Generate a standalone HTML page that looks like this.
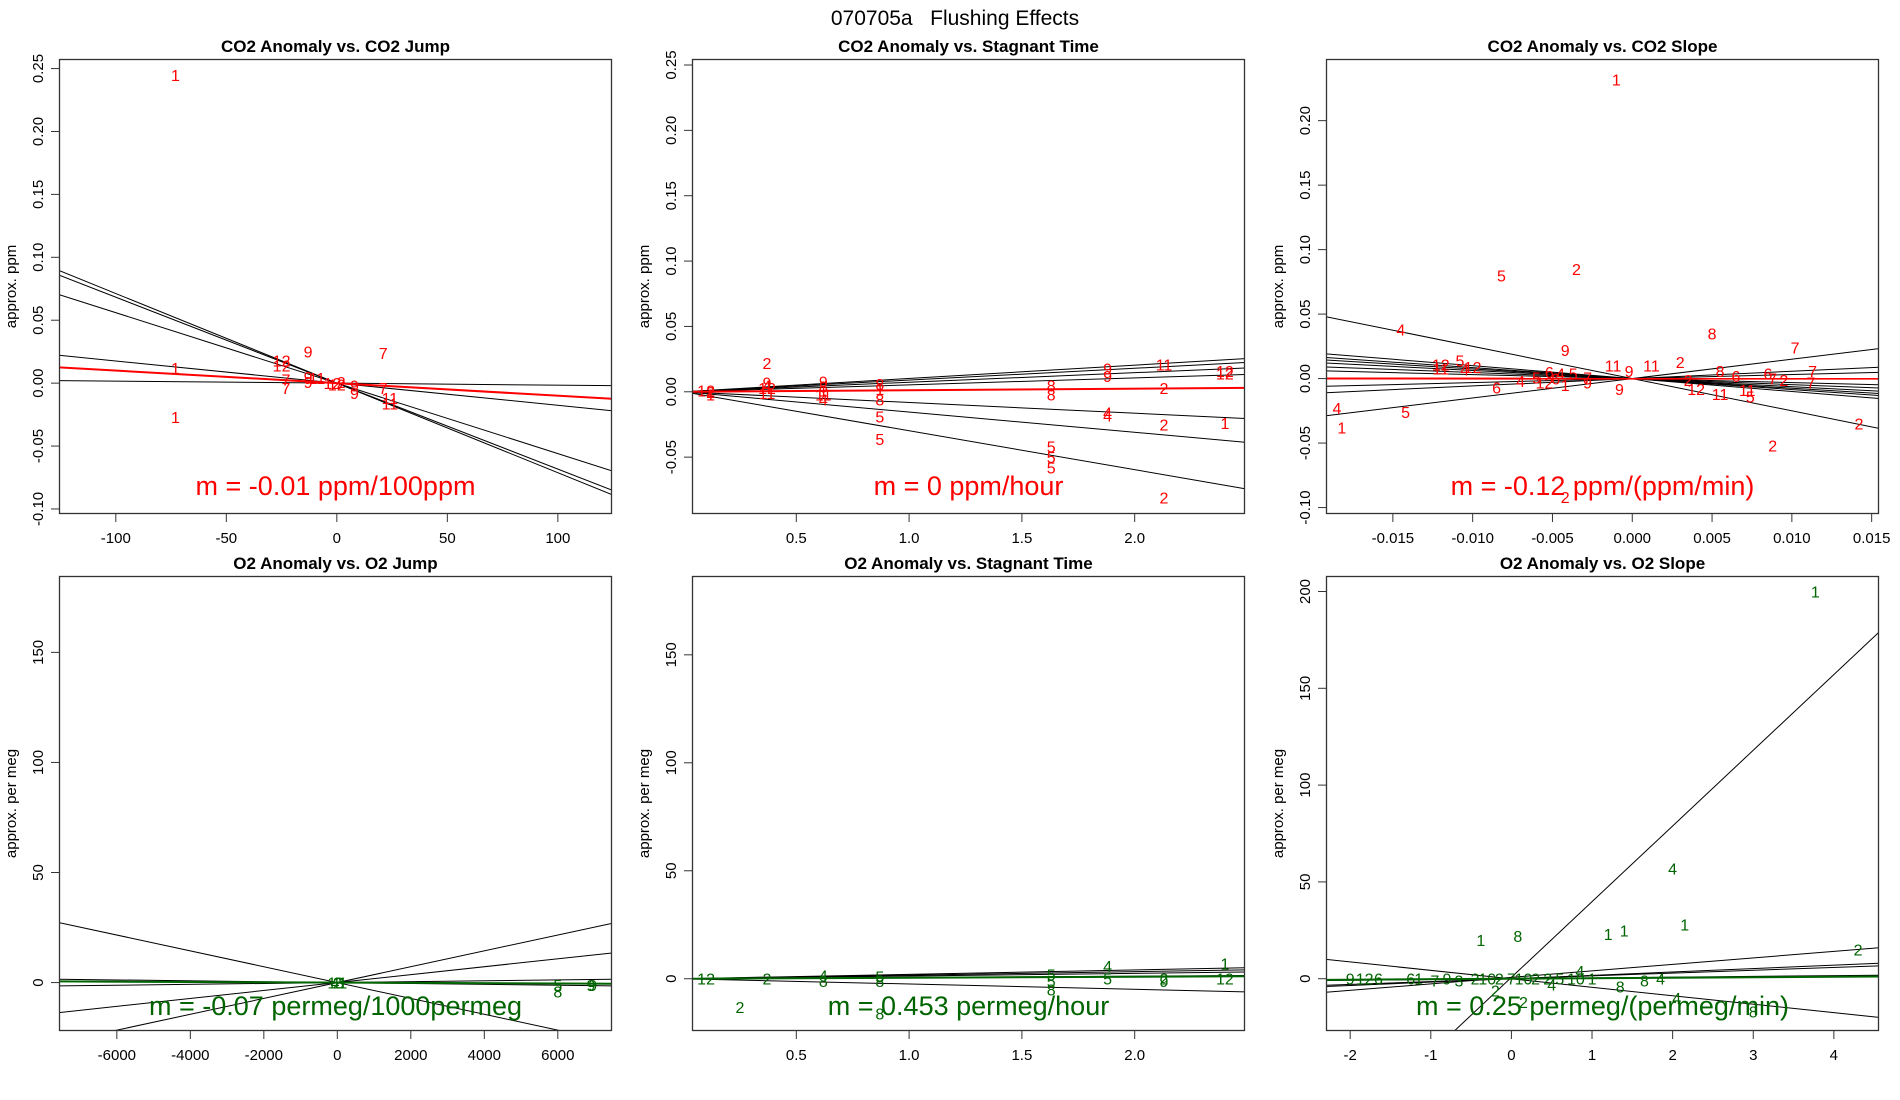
<!DOCTYPE html>
<html><head><meta charset="utf-8"><style>
html,body{margin:0;padding:0;background:#fff;}
svg{display:block;font-family:"Liberation Sans",Arial,sans-serif;}
</style></head><body>
<svg id="chart" width="1900" height="1100" viewBox="0 0 1900 1100">
<text x="955" y="25" text-anchor="middle" font-size="21" fill="#000" style="white-space:pre" xml:space="preserve">070705a   Flushing Effects</text>
</svg>
<script>
// ---------- data ----------
const p1Points = [[-73,0.245,"1"],[-73,0.012,"1"],[-73,-0.027,"1"],[-13,0.025,"9"],[21,0.024,"7"],[-25,0.018,"12"],[-25,0.014,"12"],[-13,0.005,"9"],[-9,0.004,"11"],[-23,0.003,"7"],[-23,-0.004,"7"],[-13,0.001,"9"],[-2,0.0,"12"],[0,-0.001,"12"],[2,0.001,"2"],[8,-0.002,"9"],[8,-0.008,"9"],[21,-0.004,"7"],[24,-0.012,"11"],[24,-0.016,"11"]];
const p1Slopes = [-0.000712,-0.000683,-0.00056,-0.000176,-0.000016];
const p1Fit = -0.0001;
const p1XTicks = [-100,-50,0,50,100];
const p1YTicks = [-0.10,-0.05,0.00,0.05,0.10,0.15,0.20,0.25];

const p2Points = [[0.1,0.001,"12"],[0.12,-0.002,"1"],[0.12,0.0,"2"],[0.37,0.022,"2"],[0.37,0.007,"9"],[0.37,0.005,"4"],[0.37,0.003,"12"],[0.37,-0.001,"11"],[0.62,0.008,"9"],[0.62,0.004,"8"],[0.62,0.001,"1"],[0.62,-0.002,"11"],[0.62,-0.006,"4"],[0.87,0.006,"8"],[0.87,0.002,"1"],[0.87,-0.006,"8"],[0.87,-0.019,"5"],[0.87,-0.036,"5"],[1.63,0.005,"8"],[1.63,-0.002,"8"],[1.63,-0.042,"5"],[1.63,-0.05,"5"],[1.63,-0.058,"5"],[1.88,0.018,"9"],[1.88,0.012,"9"],[1.88,-0.016,"4"],[1.88,-0.018,"4"],[2.13,0.021,"11"],[2.13,0.003,"2"],[2.13,-0.025,"2"],[2.13,-0.081,"2"],[2.4,0.016,"12"],[2.4,0.014,"12"],[2.4,-0.024,"1"]];
const p2Slopes = [0.0102,0.009,0.0073,0.0053,-0.0082,-0.0155,-0.0298];
const p2Fit = 0.0012;
const p2XTicks = [0.5,1.0,1.5,2.0];
const p2YTicks = [-0.05,0.00,0.05,0.10,0.15,0.20,0.25];

const p3Points = [[-0.001,0.232,"1"],[-0.0035,0.085,"2"],[-0.0082,0.08,"5"],[-0.0145,0.038,"4"],[-0.0042,0.022,"9"],[0.005,0.035,"8"],[0.0102,0.024,"7"],[0.003,0.013,"2"],[-0.012,0.011,"12"],[-0.0108,0.014,"5"],[-0.012,0.008,"11"],[-0.0105,0.007,"4"],[-0.01,0.009,"12"],[-0.0012,0.01,"11"],[0.0012,0.01,"11"],[-0.0002,0.006,"9"],[-0.0052,0.005,"6"],[-0.0045,0.004,"4"],[-0.0037,0.004,"5"],[-0.0028,0.001,"7"],[-0.006,0.001,"5"],[-0.0048,0.0,"6"],[-0.007,-0.002,"4"],[-0.0085,-0.007,"6"],[-0.0055,-0.003,"12"],[-0.0042,-0.005,"1"],[-0.0028,-0.003,"9"],[-0.0008,-0.008,"9"],[-0.0185,-0.023,"4"],[-0.0182,-0.038,"1"],[-0.0142,-0.026,"5"],[0.0055,0.006,"8"],[0.0065,0.002,"6"],[0.0085,0.004,"6"],[0.0088,0.0,"7"],[0.0113,0.006,"7"],[0.0095,-0.001,"2"],[0.0112,-0.003,"7"],[0.004,-0.008,"12"],[0.0055,-0.012,"11"],[0.0072,-0.009,"11"],[0.0074,-0.014,"5"],[0.0088,-0.052,"2"],[0.0142,-0.035,"2"],[-0.0042,-0.092,"2"],[0.0035,-0.001,"2"]];
const p3Slopes = [-2.5,-1.0,-0.85,-0.75,-0.63,-0.47,-0.31,0.31,0.57,1.5];
const p3Fit = -0.12;
const p3XTicks = [-0.015,-0.010,-0.005,0.000,0.005,0.010,0.015];
const p3YTicks = [-0.10,-0.05,0.00,0.05,0.10,0.15,0.20];

const p4Points = [[-150,0,"1"],[0,0,"2"],[150,0,"1"],[-60,0,"4"],[60,0,"3"],[6000,-1,"5"],[6000,-4,"8"],[6900,-1,"9"],[6950,-1,"9"]];
const p4Slopes = [-0.0036,0.0036,0.0018,0.0002,-0.0002];
const p4Fit = -0.00007;
const p4XTicks = [-6000,-4000,-2000,0,2000,4000,6000];
const p4YTicks = [0,50,100,150];

const p5Points = [[0.1,0,"12"],[0.37,0,"2"],[0.25,-13,"2"],[0.62,1.5,"4"],[0.62,-1,"8"],[0.87,1,"5"],[0.87,-1,"8"],[0.87,-16,"8"],[1.63,2,"5"],[1.63,-1,"5"],[1.63,-5,"8"],[1.88,6,"4"],[1.88,0,"5"],[2.13,0,"2"],[2.13,-1,"9"],[2.4,7,"1"],[2.4,0,"12"]];
const p5Slopes = [2.05,1.65,1.25,0.6,-2.45];
const p5Fit = 0.453;
const p5XTicks = [0.5,1.0,1.5,2.0];
const p5YTicks = [0,50,100,150];

const p6Points = [[3.77,200,"1"],[2,57,"4"],[2.15,28,"1"],[1.4,25,"1"],[1.2,23,"1"],[0.08,22,"8"],[-0.38,20,"1"],[4.3,15,"2"],[0.85,4,"4"],[1.65,-1,"8"],[1.85,0,"4"],[1.35,-4,"8"],[3,-17,"8"],[0.15,-12,"2"],[2.05,-10,"4"],[0.5,-3,"4"],[-0.2,-6,"2"],[-2.0,0,"9"],[-1.82,0,"12"],[-1.65,0,"6"],[-1.25,0,"6"],[-1.15,0,"1"],[-0.95,-1,"7"],[-0.8,0,"9"],[-0.65,-1,"3"],[-0.45,0,"2"],[-0.3,0,"10"],[-0.15,0,"2"],[0.0,0,"7"],[0.15,0,"10"],[0.3,0,"2"],[0.45,0,"2"],[0.6,0,"5"],[0.8,0,"10"],[1.0,0,"1"]];
const p6Slopes = [39.1,-4.37,3.35,1.75,1.46,0.4];
const p6Intercepts = [0.7,-0.05,0.7,0,0,0];
const p6Fit = 0.25;
const p6XTicks = [-2,-1,0,1,2,3,4];
const p6YTicks = [0,50,100,150,200];

// ---------- drawing ----------
const svg = document.getElementById('chart');
const NS = 'http://www.w3.org/2000/svg';
function mk(tag, attrs, parent){
  const e = document.createElementNS(NS, tag);
  for (const k in attrs) e.setAttribute(k, attrs[k]);
  parent.appendChild(e);
  return e;
}
function fmt(v, d){ return v.toFixed(d); }

function panel(cfg){
  const g = mk('g', {}, svg);
  
  
  const L=cfg.box[0], T=cfg.box[1], R=cfg.box[2], B=cfg.box[3];
  const sx = v => L + (v - cfg.xlim[0])/(cfg.xlim[1]-cfg.xlim[0])*(R-L);
  const sy = v => B - (v - cfg.ylim[0])/(cfg.ylim[1]-cfg.ylim[0])*(B-T);
  const t = mk('text', {x:(L+R)/2, y:T-7, 'text-anchor':'middle', 'font-size':17, 'font-weight':'bold'}, g);
  t.textContent = cfg.title;
  
  
  const cid = cfg.name + '-clip';
  const cp = mk('clipPath', {id:cid}, g);
  mk('rect', {x:L, y:T, width:R-L, height:B-T}, cp);
  const plot = mk('g', {'clip-path':'url(#'+cid+')'}, g);
  cfg.slopes.forEach((s,i) => {
    const b = cfg.intercepts ? cfg.intercepts[i] : 0;
    const ln = mk('line', {x1:sx(cfg.xlim[0]), y1:sy(b + s*cfg.xlim[0]), x2:sx(cfg.xlim[1]), y2:sy(b + s*cfg.xlim[1]), stroke:'#000', 'stroke-width':1}, plot);
    
    
  });
  cfg.points.forEach(p => {
    const tx = mk('text', {x:sx(p[0]), y:sy(p[1])+6, 'text-anchor':'middle', 'font-size':16, fill:cfg.color}, plot);
    tx.textContent = p[2];
    
    
  });
  const fl = mk('line', {x1:sx(cfg.xlim[0]), y1:sy(cfg.fit*cfg.xlim[0]), x2:sx(cfg.xlim[1]), y2:sy(cfg.fit*cfg.xlim[1]), stroke:cfg.color, 'stroke-width':2}, plot);
  
  
  const mt = mk('text', {x:(L+R)/2, y:cfg.mY, 'text-anchor':'middle', 'font-size':27, fill:cfg.color}, g);
  mt.textContent = cfg.mText;
  
  
  const bx = mk('rect', {x:L+0.5, y:T+0.5, width:R-L-1, height:B-T-1, fill:'none', stroke:'#333', 'stroke-width':1.3}, g);
  
  
  cfg.xticks.forEach(v => {
    const x = sx(v);
    mk('line', {x1:x, y1:B, x2:x, y2:B+8, stroke:'#333', 'stroke-width':1}, g);
    const tl = mk('text', {x:x, y:B+29, 'text-anchor':'middle', 'font-size':15}, g);
    tl.textContent = fmt(v, cfg.xd);
    
    
  });
  cfg.yticks.forEach(v => {
    const y = sy(v);
    mk('line', {x1:L-8, y1:y, x2:L, y2:y, stroke:'#333', 'stroke-width':1}, g);
    const tl = mk('text', {x:0, y:0, 'text-anchor':'middle', 'font-size':15, transform:'translate('+(L-16)+','+y+') rotate(-90)'}, g);
    tl.textContent = fmt(v, cfg.yd);
    
    
  });
  const yl = mk('text', {x:0, y:0, 'text-anchor':'middle', 'font-size':15, transform:'translate('+(L-43)+','+((T+B)/2)+') rotate(-90)'}, g);
  yl.textContent = cfg.ylab;
  
  
}

const RED='#ff0000', GREEN='#006400';
const cols=[[59,612],[692,1245],[1326,1879]], rows=[[59,514],[576,1031]];
function box(c,r){ return [cols[c][0], rows[r][0], cols[c][1], rows[r][1]]; }

panel({name:'panel-co2-jump', title:'CO2 Anomaly vs. CO2 Jump', box:box(0,0), xlim:[-125.7,124.5], ylim:[-0.104,0.2576], points:p1Points, slopes:p1Slopes, fit:p1Fit, color:RED, xticks:p1XTicks, yticks:p1YTicks, xd:0, yd:2, ylab:'approx. ppm', mText:'m = -0.01 ppm/100ppm', mY:495});
panel({name:'panel-co2-stagnant', title:'CO2 Anomaly vs. Stagnant Time', box:box(1,0), xlim:[0.0376,2.489], ylim:[-0.0935,0.2546], points:p2Points, slopes:p2Slopes, fit:p2Fit, color:RED, xticks:p2XTicks, yticks:p2YTicks, xd:1, yd:2, ylab:'approx. ppm', mText:'m = 0 ppm/hour', mY:495});
panel({name:'panel-co2-slope', title:'CO2 Anomaly vs. CO2 Slope', box:box(2,0), xlim:[-0.01919,0.01546], ylim:[-0.105,0.2478], points:p3Points, slopes:p3Slopes, fit:p3Fit*0.01, color:RED, xticks:p3XTicks, yticks:p3YTicks, xd:3, yd:2, ylab:'approx. ppm', mText:'m = -0.12 ppm/(ppm/min)', mY:495});
panel({name:'panel-o2-jump', title:'O2 Anomaly vs. O2 Jump', box:box(0,1), xlim:[-7574,7475], ylim:[-22,184.7], points:p4Points, slopes:p4Slopes, fit:p4Fit, color:GREEN, xticks:p4XTicks, yticks:p4YTicks, xd:0, yd:0, ylab:'approx. per meg', mText:'m = -0.07 permeg/1000permeg', mY:1015});
panel({name:'panel-o2-stagnant', title:'O2 Anomaly vs. Stagnant Time', box:box(1,1), xlim:[0.0376,2.489], ylim:[-24.2,186.5], points:p5Points, slopes:p5Slopes, fit:p5Fit, color:GREEN, xticks:p5XTicks, yticks:p5YTicks, xd:1, yd:0, ylab:'approx. per meg', mText:'m = 0.453 permeg/hour', mY:1015});
panel({name:'panel-o2-slope', title:'O2 Anomaly vs. O2 Slope', box:box(2,1), xlim:[-2.30,4.56], ylim:[-27,208], points:p6Points, slopes:p6Slopes, intercepts:p6Intercepts, fit:p6Fit, color:GREEN, xticks:p6XTicks, yticks:p6YTicks, xd:0, yd:0, ylab:'approx. per meg', mText:'m = 0.25 permeg/(permeg/min)', mY:1015});
</script>
</body></html>
